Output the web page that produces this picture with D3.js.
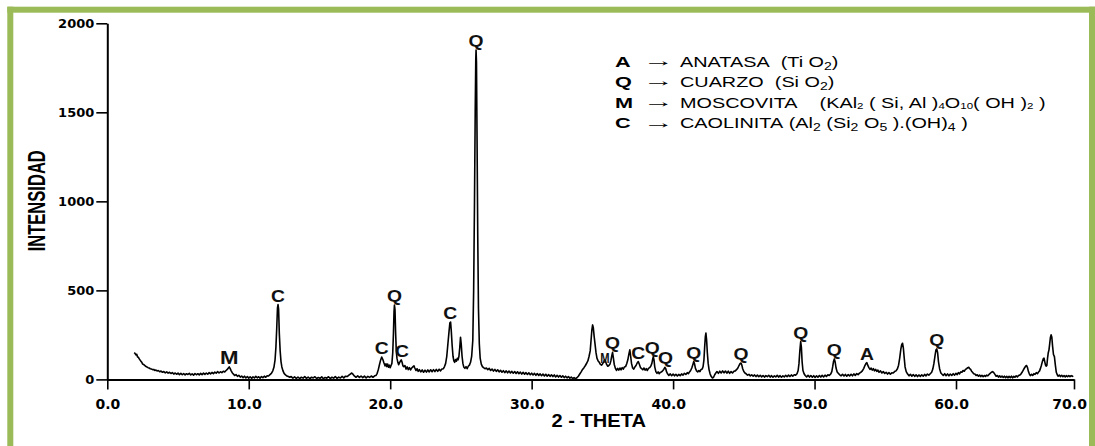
<!DOCTYPE html>
<html>
<head>
<meta charset="utf-8">
<script src="https://cdn.jsdelivr.net/npm/d3@7"></script>
<style>
  html, body { margin: 0; padding: 0; background: #fff; }
  svg { display: block; }
  .pre { white-space: pre; }
</style>
</head>
<body>
<svg id="chart" width="1095" height="446"></svg>
<script>
// Axis ticks
const yTicks = [0, 500, 1000, 1500, 2000];
const xTicks = [0, 10, 20, 30, 40, 50, 60, 70];

// Diffraction pattern: [2-theta (deg), intensity (counts)]
const pattern = [
  [1.90,150],[1.96,146],[2.02,138],[2.08,141],[2.14,126],[2.20,124],[2.26,115],[2.32,108],[2.38,101],[2.44,96],
  [2.50,86],[2.56,84],[2.62,80],[2.68,76],[2.74,72],[2.80,70],[2.88,66],[2.96,64],[3.04,60],[3.12,58],
  [3.20,55],[3.28,56],[3.36,50],[3.44,53],[3.52,47],[3.60,50],[3.70,43],[3.80,47],[3.90,40],[4.00,44],
  [4.10,37],[4.20,42],[4.30,35],[4.40,40],[4.50,33],[4.60,38],[4.70,30],[4.80,36],[4.90,29],[5.00,35],
  [5.10,27],[5.20,34],[5.30,26],[5.40,33],[5.50,25],[5.60,32],[5.70,28],[5.80,34],[5.90,25],[6.00,31],
  [6.10,24],[6.20,33],[6.30,26],[6.40,32],[6.50,25],[6.60,34],[6.70,27],[6.80,35],[6.90,28],[7.00,36],
  [7.10,29],[7.20,38],[7.30,31],[7.40,39],[7.50,32],[7.60,41],[7.70,35],[7.80,44],[7.90,36],[8.00,43],
  [8.10,38],[8.20,46],[8.30,42],[8.40,50],[8.48,56],[8.56,64],[8.62,70],[8.68,62],[8.76,48],[8.84,36],
  [8.92,30],[9.00,22],[9.10,27],[9.20,17],[9.30,23],[9.40,13],[9.50,19],[9.60,10],[9.70,18],[9.80,8],
  [9.90,16],[10.00,7],[10.10,15],[10.20,6],[10.30,14],[10.40,8],[10.50,17],[10.60,9],[10.70,15],[10.80,7],
  [10.90,16],[11.00,10],[11.10,18],[11.20,12],[11.30,20],[11.40,19],[11.50,27],[11.60,34],[11.70,48],[11.78,68],
  [11.86,110],[11.92,180],[11.98,290],[12.03,400],[12.07,420],[12.11,395],[12.16,260],[12.22,160],[12.28,100],[12.34,70],
  [12.42,48],[12.50,34],[12.60,25],[12.70,19],[12.80,16],[12.90,12],
  [13.00,16],[13.12,7],[13.24,14],[13.36,6],[13.48,13],[13.60,5],[13.72,12],[13.84,7],[13.96,16],[14.08,6],
  [14.20,13],[14.32,5],[14.44,12],[14.56,8],[14.68,15],[14.80,5],[14.92,11],[15.04,6],[15.16,14],[15.28,4],
  [15.40,11],[15.52,7],[15.64,15],[15.76,5],[15.88,12],[16.00,7],[16.12,16],[16.24,6],[16.36,13],[16.48,8],
  [16.60,17],[16.72,9],[16.84,18],[16.96,16],[17.08,24],[17.18,30],[17.28,36],[17.38,28],[17.48,18],[17.58,12],
  [17.70,20],[17.82,11],[17.94,19],[18.06,10],[18.18,18],[18.30,9],[18.42,17],[18.54,11],[18.66,19],[18.78,12],
  [18.90,20],[19.00,22],
  [19.08,34],[19.16,55],[19.24,82],[19.32,108],[19.40,126],[19.48,112],[19.56,92],[19.64,76],[19.70,88],[19.76,72],
  [19.82,86],[19.88,68],[19.94,80],[20.00,66],[20.06,78],[20.12,90],[20.18,150],[20.23,260],[20.27,380],[20.30,418],
  [20.34,390],[20.38,270],[20.43,160],[20.48,118],[20.54,96],[20.60,82],[20.66,94],[20.72,102],[20.78,110],[20.84,96],
  [20.90,76],[20.96,72],[21.04,78],[21.12,58],[21.20,70],[21.28,55],[21.36,66],[21.44,53],[21.52,64],[21.60,70],
  [21.68,76],[21.74,64],[21.82,50],[21.90,60],[21.98,45],
  [22.06,55],[22.16,42],[22.26,53],[22.36,40],[22.46,52],[22.56,41],[22.66,53],[22.76,42],[22.86,54],[22.96,43],
  [23.06,55],[23.16,44],[23.26,56],[23.36,45],[23.46,57],[23.56,48],[23.66,58],[23.76,60],[23.84,72],[23.92,90],
  [24.00,130],[24.08,200],[24.16,270],[24.22,318],[24.27,322],[24.32,270],[24.38,190],[24.44,130],[24.50,104],[24.56,96],
  [24.62,112],[24.68,102],[24.74,118],[24.80,110],[24.86,130],[24.92,180],[24.97,237],[25.02,200],[25.08,130],[25.14,90],
  [25.20,70],[25.28,62],[25.36,72],[25.44,60],[25.52,74],[25.60,80],[25.68,96],[25.76,130],[25.84,220],[25.90,500],
  [25.96,1000],[26.01,1500],[26.05,1800],[26.07,1850],[26.10,1780],[26.14,1350],[26.19,800],[26.24,400],[26.30,200],[26.36,120],
  [26.44,86],[26.52,72],[26.60,66],[26.70,60],[26.80,64],
  [26.90,55],[27.00,62],[27.10,50],[27.20,58],[27.30,47],[27.40,56],[27.50,45],[27.60,54],[27.70,42],[27.80,51],
  [27.90,40],[28.00,49],[28.10,38],[28.20,48],[28.30,37],[28.40,47],[28.50,36],[28.60,45],[28.70,35],[28.80,44],
  [28.90,33],[29.00,43],[29.10,32],[29.20,41],[29.30,30],[29.40,40],[29.50,29],[29.60,38],[29.70,28],[29.80,37],
  [29.90,26],[30.00,35],[30.10,25],[30.20,34],[30.30,23],[30.40,33],[30.50,22],[30.60,31],[30.70,21],[30.80,30],
  [30.90,19],[31.00,29],[31.10,18],[31.20,27],[31.30,17],[31.40,26],[31.50,16],[31.60,25],[31.70,14],[31.80,23],
  [31.90,13],[32.00,22],[32.10,12],[32.20,20],[32.30,10],[32.40,18],[32.50,9],[32.60,16],[32.70,7],[32.80,13],
  [32.90,5],[33.00,10],[33.10,4],[33.20,9],[33.30,18],
  [33.40,30],[33.50,42],[33.60,56],[33.70,66],[33.80,78],[33.90,92],[33.98,105],[34.06,130],[34.14,160],[34.20,220],
  [34.26,280],[34.31,306],[34.36,290],[34.42,240],[34.48,200],[34.55,150],[34.62,118],[34.70,104],[34.78,96],[34.86,84],
  [34.94,80],[35.02,88],[35.10,100],[35.16,110],[35.22,102],[35.30,84],[35.38,74],[35.46,78],[35.54,86],[35.60,104],
  [35.66,130],[35.72,152],[35.78,120],[35.84,84],[35.92,62],[36.00,50],[36.08,62],[36.16,52],[36.24,64],[36.32,54],
  [36.40,66],[36.48,58],[36.56,70],[36.64,72],[36.72,88],[36.80,110],[36.88,145],[36.94,166],[37.00,130],[37.06,90],
  [37.14,64],[37.22,58],[37.30,70],[37.38,78],[37.46,92],[37.54,100],[37.62,84],[37.70,66],[37.78,60],[37.86,54],
  [37.94,64],[38.02,52],[38.10,60],[38.18,50],[38.26,62],[38.34,66],[38.42,74],[38.50,90],[38.56,115],[38.60,128],
  [38.65,110],[38.70,72],[38.78,44],[38.86,34],[38.94,42],[39.02,32],[39.10,40],[39.18,42],[39.26,48],[39.34,56],
  [39.42,68],[39.48,60],[39.54,42],[39.62,30],[39.70,22],[39.80,31],[39.90,21],[40.00,30],[40.10,20],[40.20,29],
  [40.30,19],[40.40,28],[40.50,21],[40.60,31],[40.70,24],[40.80,34],[40.90,28],[41.00,38],[41.08,32],[41.16,42],
  [41.24,50],[41.32,64],[41.40,84],[41.46,100],[41.52,86],[41.58,62],[41.66,48],[41.74,42],[41.82,50],[41.90,44],
  [41.98,56],[42.06,58],[42.12,72],[42.18,110],[42.23,180],[42.28,240],[42.32,260],[42.37,220],[42.42,150],[42.48,90],
  [42.54,55],[42.62,30],[42.70,16],[42.78,8],[42.86,12],[42.94,26],[43.02,36],[43.10,44],[43.20,34],[43.30,46],
  [43.40,36],[43.50,48],[43.60,37],[43.70,47],[43.80,35],[43.90,46],
  [44.00,34],[44.10,44],[44.20,36],[44.30,46],[44.40,48],[44.50,56],[44.58,64],[44.66,78],[44.74,90],[44.80,92],
  [44.86,80],[44.92,60],[45.00,44],[45.08,36],[45.16,32],[45.26,24],[45.36,28],[45.46,20],[45.56,26],[45.66,18],
  [45.76,25],[45.86,16],[45.96,24],[46.06,15],[46.16,23],[46.26,14],[46.36,22],[46.46,13],[46.56,21],[46.66,15],
  [46.76,23],[46.86,13],[46.96,21],[47.06,12],[47.16,20],[47.26,14],[47.36,23],[47.46,13],[47.56,21],[47.66,12],
  [47.76,20],[47.86,14],[47.96,23],[48.06,15],[48.16,24],[48.26,16],[48.36,25],[48.46,18],[48.56,26],[48.66,24],
  [48.76,32],[48.84,50],[48.90,90],[48.96,160],[49.02,212],[49.07,180],[49.12,100],[49.18,50],[49.26,32],[49.34,22],
  [49.44,14],[49.54,23],[49.64,13],[49.74,22],[49.84,12],[49.94,21],[50.04,11],[50.14,20],[50.24,12],[50.34,22],
  [50.44,13],[50.54,23],[50.64,14],[50.74,24],[50.84,16],[50.94,26],[51.04,22],[51.14,30],[51.22,44],[51.28,70],
  [51.34,100],[51.40,115],[51.46,96],[51.52,64],[51.60,42],[51.68,34],[51.78,26],[51.88,20],[51.98,29],[52.08,19],
  [52.18,28],[52.28,18],[52.38,27],[52.48,19],[52.58,29],[52.68,20],[52.78,31],[52.88,22],[52.98,33],[53.08,27],
  [53.18,35],[53.28,40],[53.38,48],[53.48,62],[53.56,78],[53.64,90],[53.70,94],[53.76,80],[53.84,66],[53.92,56],
  [54.00,64],[54.08,52],[54.16,60],[54.24,48],[54.32,56],[54.40,45],[54.48,52],[54.56,40],[54.66,48],[54.76,36],
  [54.86,44],[54.96,33],[55.06,40],[55.16,30],[55.26,38],[55.36,29],[55.46,37],[55.56,36],[55.66,44],[55.76,48],
  [55.86,60],[55.94,80],[56.02,120],[56.10,170],[56.16,195],[56.22,203],[56.28,175],[56.34,120],[56.40,70],[56.48,44],
  [56.58,30],
  [56.68,20],[56.78,29],[56.88,18],[56.98,27],[57.08,17],[57.18,26],[57.28,16],[57.38,25],[57.48,17],[57.58,26],
  [57.68,18],[57.78,28],[57.88,20],[57.98,30],[58.08,24],[58.18,32],[58.28,40],[58.36,58],[58.44,90],[58.52,135],
  [58.58,165],[58.64,171],[58.70,150],[58.76,100],[58.84,60],[58.92,38],[59.00,30],[59.10,22],[59.20,32],[59.30,21],
  [59.40,31],[59.50,20],[59.60,30],[59.70,22],[59.80,32],[59.90,24],[60.00,34],[60.10,27],[60.20,38],[60.30,31],
  [60.40,42],[60.50,40],[60.60,50],[60.70,46],[60.80,56],[60.90,60],[61.00,66],[61.08,68],[61.16,60],[61.24,56],
  [61.32,46],[61.40,40],[61.50,32],[61.60,30],[61.70,22],[61.80,26],[61.90,18],[62.00,24],[62.10,16],[62.20,23],
  [62.30,15],[62.40,22],[62.50,17],[62.60,24],[62.70,20],[62.80,28],[62.90,34],[63.00,40],[63.10,44],[63.20,38],
  [63.30,28],[63.40,18],[63.50,22],[63.60,13],[63.70,20],[63.80,12],[63.90,19],[64.00,11],[64.10,18],[64.20,10],
  [64.30,17],[64.40,9],[64.50,17],[64.60,10],[64.70,18],[64.80,9],[64.90,17],[65.00,12],[65.10,20],[65.20,14],
  [65.30,22],[65.40,24],[65.50,30],[65.60,40],[65.70,52],[65.80,64],[65.90,74],[65.98,78],[66.06,66],[66.14,44],
  [66.22,30],[66.30,21],[66.40,29],[66.50,22],[66.60,32],[66.70,28],[66.80,38],[66.90,32],[67.00,42],[67.08,48],
  [67.16,62],[67.24,80],[67.32,100],[67.40,116],[67.46,119],[67.52,100],[67.58,82],[67.64,74],[67.70,78],[67.76,120],
  [67.82,150],[67.88,166],[67.94,200],[68.00,235],[68.06,250],[68.12,238],[68.18,190],[68.26,140],[68.34,128],[68.42,80],
  [68.50,40],[68.58,26],[68.66,18],[68.76,24],[68.86,16],[68.96,23],[69.06,15],[69.16,22],[69.26,14],[69.36,21],
  [69.46,15],[69.56,22],[69.66,16],[69.76,21],[69.86,17],[69.94,20]
];

// Phase identification marks: [letter, 2-theta, peak intensity, small]
const peakLabels = [
  ['M', 8.62, 70, false], ['C', 12.07, 420, false], ['C', 19.40, 126, false], ['Q', 20.30, 418, false],
  ['C', 20.83, 110, false], ['C', 24.25, 322, false], ['Q', 26.07, 1850, false], ['M', 35.18, 110, true],
  ['Q', 35.72, 152, false], ['C', 37.54, 100, false], ['Q', 38.52, 128, false], ['Q', 39.46, 68, false],
  ['Q', 41.46, 100, false], ['Q', 44.80, 92, false], ['Q', 49.02, 212, false], ['Q', 51.40, 115, false],
  ['A', 53.70, 94, false], ['Q', 58.64, 171, false]
];

// Legend: symbol, mineral name, formula pieces ('' normal, 's' subscript, 't' small subscript)
const legendSymbols = ['A', 'Q', 'M', 'C'];
const legendNames = ['ANATASA', 'CUARZO', 'MOSCOVITA', 'CAOLINITA'];
const legendFormulas = [
  [['  (Ti O', ''], ['2', 's'], [')', '']],
  [['  (Si O', ''], ['2', 's'], [')', '']],
  [['    (KAl', ''], ['2', 't'], [' ( Si, Al )', ''], ['4', 't'], ['O', ''], ['10', 't'], ['( OH )', ''], ['2', 't'], [' )', '']],
  [[' (Al', ''], ['2', 's'], [' (Si', ''], ['2', 's'], [' O', ''], ['5', 's'], [' ).(OH)', ''], ['4', 's'], [' )', '']]
];

const svg = d3.select('#chart');
const ARIAL = "'Liberation Sans', Arial, Helvetica, sans-serif";
const DEJAVU = "'DejaVu Sans', Verdana, sans-serif";

// Scales
const x = d3.scaleLinear().domain([0, 60, 70]).range([107.3, 956, 1074]);
const y = d3.scaleLinear().domain([0, 2000]).range([379.4, 23.3]);

// Green frame
const green = '#9bbb59';
svg.append('rect').attr('x', 7.3).attr('y', 6.7).attr('width', 1095 - 7.3).attr('height', 6).attr('fill', green);
svg.append('rect').attr('x', 7.3).attr('y', 6.7).attr('width', 6).attr('height', 446).attr('fill', green);
svg.append('rect').attr('x', 1089).attr('y', 6.7).attr('width', 6).attr('height', 446).attr('fill', green);

// Y axis
const yAxis = d3.axisLeft(y).tickValues(yTicks).tickSize(11).tickSizeOuter(0).tickPadding(2).tickFormat(d3.format('d'));
const yg = svg.append('g').attr('transform', `translate(${x(0)},0)`).call(yAxis);
yg.attr('font-family', DEJAVU).attr('font-size', 13).attr('font-weight', 'bold');
yg.select('.domain').attr('stroke', '#000').attr('stroke-width', 2);
yg.selectAll('.tick line').attr('stroke', '#000').attr('stroke-width', 1.6);
yg.selectAll('.tick text').attr('fill', '#000');

// X axis
const xAxis = d3.axisBottom(x).tickValues(xTicks).tickSize(10).tickSizeOuter(0).tickPadding(10).tickFormat(d3.format('.1f'));
const xg = svg.append('g').attr('transform', `translate(0,${y(0)})`).call(xAxis);
xg.attr('font-family', DEJAVU).attr('font-size', 14).attr('font-weight', 'bold');
xg.select('.domain').attr('stroke', '#000').attr('stroke-width', 2);
xg.selectAll('.tick line').attr('stroke', '#000').attr('stroke-width', 1.6);
// centre each label on its decimal point
xg.selectAll('.tick text').attr('fill', '#000').each(function () {
  const s = this.textContent;
  const i = s.indexOf('.');
  const pre = this.getSubStringLength(0, i);
  const dot = this.getSubStringLength(i, 1);
  d3.select(this).attr('text-anchor', 'start').attr('x', -(pre + dot / 2));
});

// Pattern trace
const line = d3.line().x(d => x(d[0])).y(d => y(d[1]));
svg.append('path')
  .datum(pattern)
  .attr('d', line)
  .attr('fill', 'none')
  .attr('stroke', '#000')
  .attr('stroke-width', 1.6)
  .attr('stroke-linejoin', 'round');

// Phase letters above peaks
svg.append('g').selectAll('text')
  .data(peakLabels)
  .join('text')
  .attr('transform', d => d[3]
      ? `translate(${x(d[1])},${y(d[2]) + 3.5}) scale(0.8,1)`
      : `translate(${x(d[1])},${y(d[2]) - 3}) scale(1.17,1)`)
  .attr('text-anchor', 'middle')
  .attr('font-family', ARIAL)
  .attr('font-weight', 'bold')
  .attr('font-size', d => d[3] ? 14 : (d[0] === 'M' ? 19 : 16.5))
  .attr('fill', '#111')
  .text(d => d[0]);

// Axis titles
svg.append('text')
  .attr('transform', 'translate(45,200.8) rotate(-90) scale(0.72,1)')
  .attr('text-anchor', 'middle')
  .attr('font-family', ARIAL).attr('font-weight', 'bold').attr('font-size', 23)
  .attr('fill', '#000')
  .text('INTENSIDAD');

svg.append('text')
  .attr('transform', 'translate(598.7,426.7) scale(1.08,1)')
  .attr('text-anchor', 'middle')
  .attr('font-family', ARIAL).attr('font-weight', 'bold').attr('font-size', 18.6)
  .attr('fill', '#000')
  .text('2 - THETA');

// Legend
const legend = svg.append('g').attr('fill', '#000').attr('font-family', ARIAL);
const rowBase = [66.8, 86.6, 107.6, 128.2];
legendSymbols.forEach((sym, i) => {
  const b = rowBase[i];
  legend.append('text')
    .attr('transform', `translate(615,${b}) scale(1.4,1)`)
    .attr('font-weight', 'bold').attr('font-size', 15.5)
    .text(sym);
  legend.append('text')
    .attr('transform', `translate(643,${b - 0.5}) scale(2.0,1)`)
    .attr('font-size', 15.5)
    .text('\u2192');
  const t = legend.append('text')
    .attr('class', 'pre')
    .attr('xml:space', 'preserve')
    .attr('transform', `translate(680,${b}) scale(1.28,1)`)
    .attr('font-size', 15.5);
  t.append('tspan').text(legendNames[i]);
  let off = 0;
  legendFormulas[i].forEach(([txt, kind]) => {
    const target = kind === 's' ? 3 : kind === 't' ? 1.5 : 0;
    t.append('tspan')
      .attr('dy', target - off)
      .attr('font-size', kind === 's' ? 11 : kind === 't' ? 9 : 15.5)
      .text(txt);
    off = target;
  });
});
</script>
</body>
</html>
